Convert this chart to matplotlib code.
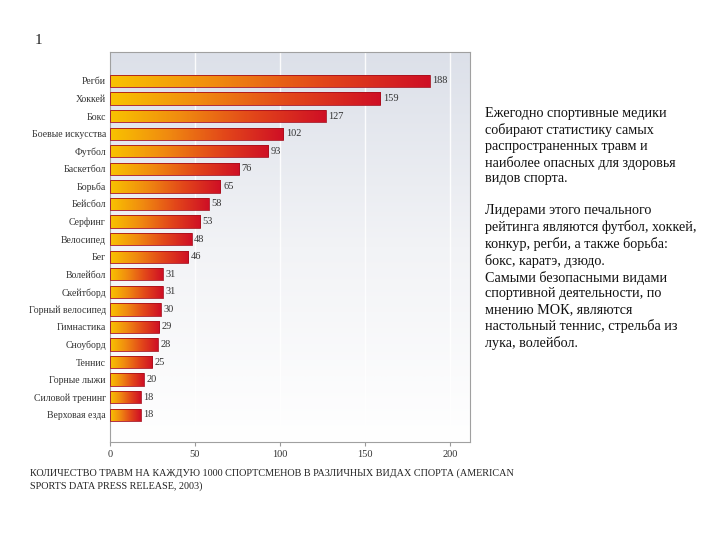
import numpy as np
import matplotlib
matplotlib.use("Agg")
import matplotlib.pyplot as plt
from matplotlib.colors import LinearSegmentedColormap

sports = ["Регби", "Хоккей", "Бокс", "Боевые искусства", "Футбол", "Баскетбол",
          "Борьба", "Бейсбол", "Серфинг", "Велосипед", "Бег", "Волейбол",
          "Скейтборд", "Горный велосипед", "Гимнастика", "Сноуборд", "Теннис",
          "Горные лыжи", "Силовой тренинг", "Верховая езда"]
injuries = [188, 159, 127, 102, 93, 76, 65, 58, 53, 48, 46, 31, 31, 30, 29, 28, 25, 20, 18, 18]
xticks = [0, 50, 100, 150, 200]

caption = ("КОЛИЧЕСТВО ТРАВМ НА КАЖДУЮ 1000 СПОРТСМЕНОВ В РАЗЛИЧНЫХ ВИДАХ СПОРТА (AMERICAN\n"
           "SPORTS DATA PRESS RELEASE, 2003)")
side_text = ("Ежегодно спортивные медики\nсобирают статистику самых\nраспространенных травм и\n"
             "наиболее опасных для здоровья\nвидов спорта.\n\n"
             "Лидерами этого печального\nрейтинга являются футбол, хоккей,\n"
             "конкур, регби, а также борьба:\nбокс, каратэ, дзюдо.\n"
             "Самыми безопасными видами\nспортивной деятельности, по\n"
             "мнению МОК, являются\nнастольный теннис, стрельба из\nлука, волейбол.")

plt.rcParams['font.family'] = ['Liberation Serif', 'DejaVu Serif']

fig = plt.figure(figsize=(7.2, 5.4), dpi=100)
ax = fig.add_axes([110/720, 1-442/540, 360/720, 390/540])

# background gradient
bg = LinearSegmentedColormap.from_list("bg", ["#ffffff", "#f2f3f6", "#dce0e9"])
ax.imshow(np.linspace(0, 1, 256).reshape(-1, 1), cmap=bg, origin="lower",
          extent=[0, 1, 0, 1], transform=ax.transAxes, aspect="auto", zorder=0)

for t in xticks[1:]:
    ax.axvline(t, color="white", lw=1.0, alpha=0.9, zorder=1)

y = np.arange(len(sports))
bars = ax.barh(y, injuries, height=0.7, color="none", edgecolor="#a8101e",
               linewidth=0.6, zorder=3)

barcm = LinearSegmentedColormap.from_list("bar", ["#f9c300", "#f08a10", "#e2461a", "#cf0f25"])
grad = np.linspace(0, 1, 256).reshape(1, -1)
for b in bars:
    x0, y0 = b.get_x(), b.get_y()
    w, h = b.get_width(), b.get_height()
    im = ax.imshow(grad, cmap=barcm, extent=[x0, x0 + w, y0 + h, y0],
                   aspect="auto", zorder=2, interpolation="bilinear")
    im.set_clip_path(b)

for yi, v in zip(y, injuries):
    ax.text(v + 1.5, yi, str(v), va="center", ha="left", fontsize=7.5, color="#333333", zorder=4)

ax.set_xlim(0, 211.8)
ax.set_ylim(20.55, -1.65)
ax.set_yticks(y)
ax.set_yticklabels(sports, fontsize=7.0, color="#333333")
ax.tick_params(axis="y", length=0, pad=3)
ax.set_xticks(xticks)
ax.tick_params(axis="x", length=3, color="#999999", labelsize=7.5, labelcolor="#333333", pad=3)
for s in ax.spines.values():
    s.set_color("#a0a0a0")
    s.set_linewidth(0.8)

fig.text(35/720, 1-40/540, "1", fontsize=11, va="center", ha="left", color="#222222")
fig.text(30/720, 1-468/540, caption, fontsize=7.3, va="top", ha="left",
         color="#222222", linespacing=1.45)
fig.text(485/720, 1-107/540, side_text, fontsize=10.2, va="top", ha="left",
         color="#111111", linespacing=1.27)

fig.savefig("out.png", dpi=100)
